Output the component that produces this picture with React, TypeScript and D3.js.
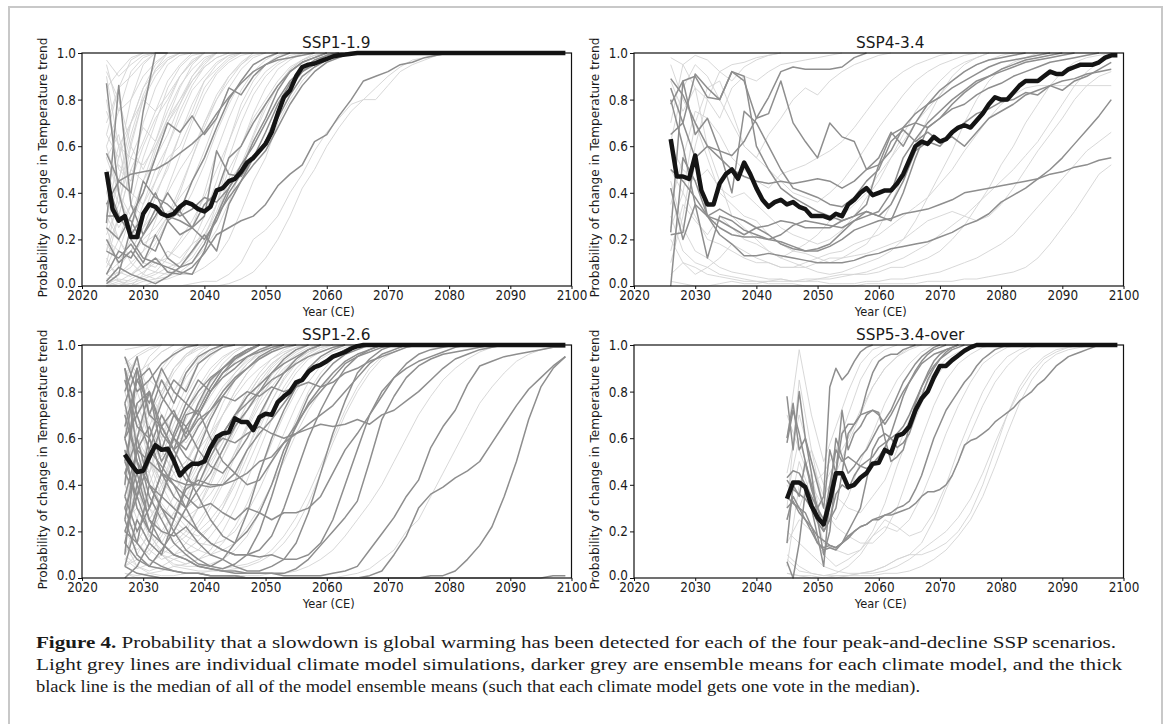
import React, { useEffect, useRef } from "react";
import * as d3 from "d3";

// axis ticks shared by all four panels
const xTicks = [2020, 2030, 2040, 2050, 2060, 2070, 2080, 2090, 2100];
const yTicks = [0, 0.2, 0.4, 0.6, 0.8, 1.0];

// ---- SSP1-1.9 (median yearly, models and runs every 2 years from start) ----
const ssp119Start = 2024;
const ssp119Median = [
  0.49, 0.33, 0.28, 0.30, 0.21, 0.21,
  0.31, 0.35, 0.34, 0.31, 0.30, 0.31, 0.34, 0.36, 0.35, 0.33,
  0.32, 0.34, 0.41, 0.42, 0.45, 0.46, 0.49, 0.53, 0.55, 0.58,
  0.61, 0.66, 0.74, 0.81, 0.84, 0.90, 0.94, 0.95, 0.955, 0.965,
  0.975, 0.985, 0.99, 0.993, 0.997, 1, 1, 1, 1, 1,
  1, 1, 1, 1, 1, 1, 1, 1, 1, 1,
  1, 1, 1, 1, 1, 1, 1, 1, 1, 1,
  1, 1, 1, 1, 1, 1, 1, 1, 1, 1,
];
const ssp119Models = [
  [0.57, 0.45, 0.40, 0.75, 1.0, 1.0],
  [0.27, 0.86, 0.35, 0.22, 0.30, 0.40, 0.32, 0.45, 0.55, 0.68, 0.80, 0.88, 0.95, 0.98, 1.0],
  [0.35, 0.45, 0.48, 0.49, 0.50, 0.53, 0.57, 0.61, 0.66, 0.74, 0.81, 0.87, 0.92, 0.95, 0.97, 0.98, 0.99, 1.0],
  [0.25, 0.20, 0.30, 0.40, 0.55, 0.70, 0.66, 0.73, 0.65, 0.72, 0.85, 0.82, 0.90, 0.95, 0.98, 1.0],
  [0.05, 0.15, 0.12, 0.22, 0.33, 0.30, 0.28, 0.25, 0.30, 0.58, 0.48, 0.47, 0.55, 0.62, 0.75, 0.85, 0.92, 0.96, 0.99, 1.0],
  [0.02, 0.08, 0.05, 0.03, 0.01, 0.04, 0.08, 0.10, 0.18, 0.30, 0.38, 0.45, 0.55, 0.66, 0.78, 0.87, 0.92, 0.95, 0.97, 0.99, 1.0],
  [0.30, 0.30, 0.22, 0.30, 0.40, 0.28, 0.22, 0.25, 0.20, 0.28, 0.40, 0.48, 0.55, 0.62, 0.72, 0.82, 0.90, 0.94, 0.97, 0.99, 1.0],
  [0.15, 0.12, 0.18, 0.10, 0.22, 0.12, 0.08, 0.15, 0.22, 0.15, 0.35, 0.45, 0.52, 0.58, 0.68, 0.78, 0.86, 0.92, 0.96, 0.98, 1.0],
  [0.20, 0.10, 0.15, 0.08, 0.12, 0.06, 0.05, 0.08, 0.14, 0.22, 0.25, 0.28, 0.30, 0.35, 0.43, 0.48, 0.52, 0.62, 0.65, 0.73, 0.80, 0.88, 0.90, 0.92, 0.95, 0.96, 0.98, 0.99, 1.0],
  [0.87, 0.40, 0.20, 0.12, 0.10, 0.08, 0.06, 0.05, 0.15, 0.30, 0.42, 0.52, 0.60, 0.70, 0.80, 0.88, 0.93, 0.97, 0.99, 1.0],
  [0.01, 0.05, 0.25, 0.45, 0.38, 0.35, 0.30, 0.33, 0.38, 0.36, 0.42, 0.50, 0.62, 0.72, 0.84, 0.92, 0.96, 0.98, 1.0],
  [0.45, 0.30, 0.28, 0.18, 0.15, 0.28, 0.32, 0.25, 0.35, 0.40, 0.55, 0.60, 0.70, 0.78, 0.86, 0.92, 0.96, 0.98, 1.0],
];
const ssp119Runs = [
  [0.97, 0.90, 0.95, 0.99, 1, 1],
  [0.60, 0.75, 0.92, 0.98, 1],
  [0.30, 0.55, 0.70, 0.85, 0.95, 1],
  [0.15, 0.40, 0.62, 0.80, 0.90, 0.97, 1],
  [0.80, 0.50, 0.45, 0.70, 0.85, 0.95, 0.99, 1],
  [0.45, 0.30, 0.50, 0.62, 0.75, 0.82, 0.90, 0.96, 1],
  [0.20, 0.15, 0.30, 0.45, 0.55, 0.70, 0.78, 0.88, 0.94, 0.98, 1],
  [0.05, 0.10, 0.20, 0.35, 0.50, 0.60, 0.72, 0.84, 0.90, 0.96, 0.99, 1],
  [0.90, 0.60, 0.35, 0.30, 0.40, 0.50, 0.65, 0.75, 0.88, 0.93, 0.98, 1],
  [0.10, 0.05, 0.08, 0.15, 0.20, 0.30, 0.42, 0.55, 0.70, 0.82, 0.90, 0.95, 0.99, 1],
  [0.35, 0.20, 0.12, 0.20, 0.25, 0.32, 0.30, 0.40, 0.52, 0.66, 0.78, 0.88, 0.95, 0.98, 1],
  [0.02, 0.00, 0.03, 0.06, 0.10, 0.12, 0.20, 0.28, 0.38, 0.50, 0.62, 0.75, 0.85, 0.92, 0.96, 0.99, 1],
  [0.00, 0.02, 0.01, 0.03, 0.05, 0.08, 0.10, 0.15, 0.25, 0.35, 0.50, 0.60, 0.72, 0.80, 0.88, 0.94, 0.97, 0.99, 1],
  [0.25, 0.08, 0.05, 0.10, 0.08, 0.15, 0.12, 0.18, 0.22, 0.30, 0.45, 0.52, 0.65, 0.78, 0.86, 0.93, 0.97, 1],
  [0.00, 0.00, 0.01, 0.00, 0.02, 0.03, 0.05, 0.05, 0.08, 0.12, 0.20, 0.32, 0.45, 0.55, 0.70, 0.80, 0.88, 0.94, 0.97, 0.99, 1],
  [0.00, 0.00, 0.00, 0.00, 0.00, 0.00, 0.00, 0.01, 0.02, 0.02, 0.05, 0.10, 0.20, 0.24, 0.30, 0.40, 0.48, 0.58, 0.66, 0.72, 0.78, 0.80, 0.85, 0.90, 0.94, 0.97, 0.98, 0.99, 1],
  [0.00, 0.00, 0.00, 0.00, 0.00, 0.00, 0.00, 0.00, 0.00, 0.00, 0.01, 0.03, 0.06, 0.12, 0.20, 0.30, 0.42, 0.50, 0.60, 0.68, 0.75, 0.80, 0.80, 0.86, 0.92, 0.95, 0.97, 0.99, 1],
  [0.70, 0.85, 0.97, 1],
  [0.50, 0.35, 0.60, 0.80, 0.93, 1],
  [0.10, 0.30, 0.25, 0.40, 0.58, 0.72, 0.85, 0.95, 1],
  [0.40, 0.60, 0.55, 0.52, 0.60, 0.70, 0.80, 0.90, 0.97, 1],
  [0.02, 0.08, 0.15, 0.25, 0.32, 0.40, 0.50, 0.58, 0.70, 0.80, 0.88, 0.95, 1],
  [0.60, 0.40, 0.25, 0.18, 0.22, 0.30, 0.38, 0.45, 0.58, 0.72, 0.85, 0.93, 0.98, 1],
  [0.12, 0.02, 0.00, 0.05, 0.12, 0.10, 0.08, 0.12, 0.20, 0.35, 0.55, 0.70, 0.82, 0.90, 0.95, 0.98, 1],
  [0.95, 0.75, 0.80, 0.90, 0.96, 1],
  [0.30, 0.45, 0.70, 0.80, 0.75, 0.88, 0.95, 1],
  [0.00, 0.05, 0.10, 0.05, 0.03, 0.06, 0.10, 0.18, 0.30, 0.45, 0.62, 0.78, 0.88, 0.95, 0.99, 1],
  [0.55, 0.65, 0.40, 0.35, 0.45, 0.55, 0.60, 0.72, 0.85, 0.92, 0.97, 1],
  [0.85, 0.92, 0.98, 1],
  [0.65, 0.55, 0.80, 0.95, 1],
  [0.25, 0.45, 0.65, 0.82, 0.93, 0.98, 1],
  [0.40, 0.25, 0.35, 0.55, 0.70, 0.85, 0.94, 0.99, 1],
  [0.08, 0.20, 0.35, 0.30, 0.45, 0.60, 0.75, 0.86, 0.94, 0.98, 1],
  [0.55, 0.40, 0.30, 0.40, 0.55, 0.65, 0.78, 0.90, 0.96, 1],
  [0.18, 0.10, 0.15, 0.25, 0.38, 0.52, 0.65, 0.78, 0.88, 0.95, 0.99, 1],
  [0.03, 0.06, 0.04, 0.10, 0.18, 0.28, 0.40, 0.55, 0.68, 0.80, 0.90, 0.96, 1],
  [0.75, 0.60, 0.70, 0.85, 0.92, 0.97, 1],
  [0.30, 0.20, 0.10, 0.15, 0.28, 0.42, 0.56, 0.70, 0.82, 0.91, 0.96, 0.99, 1],
  [0.05, 0.02, 0.05, 0.08, 0.06, 0.12, 0.18, 0.25, 0.40, 0.58, 0.72, 0.84, 0.92, 0.97, 1],
  [0.92, 0.80, 0.60, 0.50, 0.62, 0.78, 0.90, 0.97, 1],
  [0.15, 0.30, 0.50, 0.45, 0.60, 0.72, 0.80, 0.88, 0.95, 1],
  [0.48, 0.52, 0.45, 0.60, 0.72, 0.80, 0.90, 0.96, 1],
  [0.01, 0.03, 0.02, 0.04, 0.06, 0.05, 0.08, 0.14, 0.22, 0.32, 0.46, 0.60, 0.74, 0.85, 0.93, 0.97, 1],
  [0.00, 0.01, 0.00, 0.02, 0.03, 0.04, 0.06, 0.10, 0.16, 0.24, 0.36, 0.50, 0.64, 0.76, 0.86, 0.93, 0.97, 0.99, 1],
  [0.22, 0.35, 0.55, 0.68, 0.62, 0.75, 0.86, 0.93, 0.98, 1],
  [0.65, 0.85, 0.90, 0.96, 1],
];

// ---- SSP4-3.4 ----
const ssp434Start = 2026;
const ssp434Median = [
  0.63, 0.47, 0.47, 0.46,
  0.56, 0.41, 0.35, 0.35, 0.44, 0.48, 0.50, 0.46, 0.53, 0.48,
  0.42, 0.37, 0.34, 0.36, 0.37, 0.35, 0.36, 0.34, 0.33, 0.30,
  0.30, 0.30, 0.29, 0.31, 0.30, 0.35, 0.37, 0.40, 0.42, 0.39,
  0.40, 0.41, 0.41, 0.44, 0.48, 0.54, 0.60, 0.62, 0.61, 0.64,
  0.62, 0.63, 0.66, 0.68, 0.69, 0.68, 0.71, 0.74, 0.78, 0.81,
  0.80, 0.80, 0.83, 0.86, 0.88, 0.88, 0.88, 0.90, 0.92, 0.91,
  0.91, 0.93, 0.94, 0.95, 0.95, 0.95, 0.96, 0.98, 0.99, 0.99,
];
const ssp434Models = [
  [0.89, 0.82, 0.70, 0.60, 0.58, 0.56, 0.62, 0.72, 0.81, 0.92, 0.94, 0.93, 0.93, 0.93, 0.94, 0.98, 1.0],
  [0.78, 0.88, 0.90, 0.81, 0.80, 0.92, 0.88, 0.72, 0.74, 0.88, 0.70, 0.62, 0.55, 0.70, 0.64, 0.62, 0.50, 0.55, 0.66, 0.60, 0.70, 0.78, 0.84, 0.88, 0.92, 0.95, 0.97, 0.98, 0.99, 1.0],
  [0.42, 0.20, 0.35, 0.30, 0.22, 0.18, 0.13, 0.13, 0.14, 0.13, 0.12, 0.11, 0.10, 0.10, 0.10, 0.11, 0.13, 0.14, 0.16, 0.17, 0.18, 0.19, 0.21, 0.23, 0.26, 0.28, 0.31, 0.36, 0.39, 0.42, 0.46, 0.50, 0.55, 0.61, 0.67, 0.73, 0.80],
  [0.22, 0.23, 0.55, 0.30, 0.25, 0.22, 0.21, 0.21, 0.20, 0.19, 0.17, 0.15, 0.15, 0.17, 0.20, 0.24, 0.26, 0.28, 0.29, 0.31, 0.32, 0.33, 0.35, 0.37, 0.40, 0.41, 0.42, 0.43, 0.44, 0.45, 0.46, 0.48, 0.49, 0.51, 0.52, 0.54, 0.55],
  [0.50, 0.45, 0.38, 0.30, 0.33, 0.30, 0.28, 0.25, 0.26, 0.28, 0.27, 0.25, 0.25, 0.25, 0.28, 0.30, 0.32, 0.30, 0.35, 0.45, 0.58, 0.62, 0.60, 0.66, 0.70, 0.74, 0.76, 0.79, 0.80, 0.83, 0.82, 0.86, 0.88, 0.89, 0.91, 0.92, 0.93],
  [0.85, 0.70, 0.55, 0.60, 0.55, 0.50, 0.47, 0.45, 0.44, 0.45, 0.44, 0.45, 0.46, 0.45, 0.42, 0.45, 0.50, 0.52, 0.58, 0.68, 0.74, 0.78, 0.81, 0.85, 0.88, 0.91, 0.94, 0.96, 0.97, 0.98, 0.99, 1.0],
  [0.23, 0.88, 0.65, 0.72, 0.58, 0.40, 0.75, 0.70, 0.60, 0.50, 0.42, 0.40, 0.38, 0.35, 0.34, 0.38, 0.45, 0.50, 0.62, 0.67, 0.62, 0.66, 0.62, 0.64, 0.60, 0.66, 0.72, 0.75, 0.78, 0.82, 0.84, 0.86, 0.84, 0.88, 0.90, 0.93, 0.96],
  [0.00, 0.55, 0.45, 0.30, 0.28, 0.25, 0.22, 0.25, 0.22, 0.18, 0.16, 0.15, 0.16, 0.18, 0.23, 0.28, 0.30, 0.32, 0.40, 0.55, 0.63, 0.70, 0.75, 0.80, 0.84, 0.88, 0.90, 0.92, 0.94, 0.96, 0.97, 0.98, 0.99, 1.0],
  [0.80, 0.60, 0.35, 0.12, 0.30, 0.28, 0.24, 0.22, 0.20, 0.22, 0.26, 0.28, 0.27, 0.26, 0.25, 0.28, 0.32, 0.30, 0.28, 0.40, 0.55, 0.68, 0.72, 0.76, 0.78, 0.82, 0.85, 0.87, 0.90, 0.92, 0.94, 0.96, 0.97, 0.98, 0.99, 1.0],
  [0.65, 0.70, 0.91, 0.85, 0.80, 0.92, 0.90, 0.60, 0.50, 0.42, 0.38, 0.35, 0.32, 0.30, 0.28, 0.30, 0.35, 0.52, 0.65, 0.68, 0.70, 0.68, 0.72, 0.78, 0.83, 0.87, 0.90, 0.93, 0.95, 0.97, 0.98, 0.99, 1.0],
];
const ssp434Runs = [
  [0.98, 0.95, 0.99, 0.97, 0.92, 0.95, 0.96, 0.98, 0.99, 1.0],
  [0.10, 0.30, 0.60, 0.80, 0.92, 0.88, 0.94, 0.97, 0.99, 1.0],
  [0.70, 0.95, 0.85, 0.60, 0.45, 0.30, 0.25, 0.20, 0.15, 0.12, 0.10, 0.08, 0.06, 0.05, 0.06, 0.08, 0.10, 0.12, 0.15, 0.20, 0.28, 0.38, 0.48, 0.58, 0.70, 0.80, 0.88, 0.93, 0.96, 0.98, 1.0],
  [0.30, 0.15, 0.10, 0.08, 0.05, 0.04, 0.03, 0.02, 0.02, 0.02, 0.02, 0.03, 0.03, 0.04, 0.05, 0.05, 0.06, 0.08, 0.10, 0.12, 0.15, 0.18, 0.22, 0.26, 0.30, 0.35, 0.40, 0.45, 0.50, 0.56, 0.62, 0.70, 0.78, 0.86, 0.92, 0.96, 0.98],
  [0.02, 0.01, 0.00, 0.00, 0.01, 0.02, 0.01, 0.01, 0.02, 0.03, 0.02, 0.02, 0.03, 0.03, 0.04, 0.05, 0.05, 0.06, 0.08, 0.08, 0.10, 0.12, 0.15, 0.20, 0.26, 0.34, 0.42, 0.52, 0.60, 0.70, 0.78, 0.86, 0.92, 0.96, 0.98, 0.99, 1.0],
  [0.50, 0.40, 0.70, 0.55, 0.40, 0.35, 0.30, 0.28, 0.22, 0.18, 0.15, 0.14, 0.12, 0.10, 0.12, 0.15, 0.18, 0.25, 0.35, 0.48, 0.60, 0.72, 0.82, 0.90, 0.95, 0.98, 1.0],
  [0.88, 0.75, 0.85, 0.80, 0.72, 0.85, 0.90, 0.88, 0.92, 0.95, 0.96, 0.97, 0.98, 0.99, 1.0],
  [0.15, 0.35, 0.28, 0.22, 0.30, 0.25, 0.20, 0.18, 0.15, 0.12, 0.15, 0.18, 0.22, 0.28, 0.30, 0.35, 0.40, 0.48, 0.55, 0.62, 0.70, 0.76, 0.82, 0.88, 0.92, 0.95, 0.97, 0.99, 1.0],
  [0.45, 0.25, 0.15, 0.12, 0.08, 0.06, 0.05, 0.04, 0.03, 0.03, 0.02, 0.02, 0.02, 0.01, 0.01, 0.01, 0.02, 0.02, 0.03, 0.03, 0.04, 0.05, 0.06, 0.08, 0.10, 0.12, 0.15, 0.18, 0.22, 0.28, 0.34, 0.40, 0.46, 0.52, 0.58, 0.62, 0.66],
  [0.95, 0.80, 0.70, 0.85, 0.88, 0.75, 0.60, 0.55, 0.65, 0.72, 0.80, 0.85, 0.82, 0.88, 0.92, 0.95, 0.97, 0.99, 1.0],
  [0.25, 0.40, 0.30, 0.20, 0.18, 0.15, 0.12, 0.10, 0.10, 0.08, 0.08, 0.10, 0.12, 0.14, 0.15, 0.18, 0.20, 0.22, 0.26, 0.30, 0.34, 0.38, 0.44, 0.50, 0.58, 0.65, 0.72, 0.78, 0.82, 0.85, 0.86, 0.86, 0.86, 0.86, 0.86, 0.86, 0.86],
  [0.60, 0.50, 0.45, 0.50, 0.42, 0.38, 0.40, 0.35, 0.30, 0.25, 0.22, 0.20, 0.18, 0.20, 0.24, 0.30, 0.38, 0.45, 0.55, 0.65, 0.75, 0.82, 0.88, 0.93, 0.96, 0.98, 1.0],
  [0.05, 0.10, 0.08, 0.05, 0.04, 0.03, 0.02, 0.02, 0.01, 0.01, 0.01, 0.00, 0.00, 0.00, 0.00, 0.00, 0.01, 0.01, 0.01, 0.01, 0.01, 0.02, 0.02, 0.02, 0.03, 0.03, 0.04, 0.05, 0.06, 0.08, 0.12, 0.18, 0.25, 0.32, 0.40, 0.48, 0.52],
  [0.35, 0.55, 0.75, 0.72, 0.65, 0.55, 0.50, 0.45, 0.42, 0.48, 0.50, 0.52, 0.55, 0.58, 0.62, 0.68, 0.75, 0.82, 0.88, 0.92, 0.95, 0.97, 0.99, 1.0],
  [0.20, 0.10, 0.05, 0.08, 0.12, 0.18, 0.15, 0.12, 0.10, 0.08, 0.08, 0.08, 0.10, 0.12, 0.12, 0.13, 0.14, 0.16, 0.18, 0.20, 0.24, 0.28, 0.30, 0.32, 0.30, 0.28, 0.30, 0.35, 0.42, 0.50, 0.58, 0.65, 0.72, 0.80, 0.86, 0.90, 0.92],
  [0.62, 0.85, 0.95, 0.90, 0.80, 0.70, 0.60, 0.55, 0.50, 0.45, 0.40, 0.38, 0.36, 0.40, 0.45, 0.52, 0.60, 0.68, 0.75, 0.82, 0.88, 0.92, 0.95, 0.97, 0.99, 1.0],
];

// ---- SSP1-2.6 ----
const ssp126Start = 2027;
const ssp126Median = [
  0.53, 0.49, 0.455,
  0.46, 0.52, 0.57, 0.55, 0.555, 0.505, 0.44, 0.47, 0.49, 0.49,
  0.50, 0.56, 0.605, 0.62, 0.625, 0.685, 0.67, 0.67, 0.635, 0.69,
  0.705, 0.70, 0.755, 0.78, 0.80, 0.84, 0.85, 0.885, 0.905, 0.915,
  0.93, 0.95, 0.96, 0.97, 0.985, 0.995, 1, 1, 1, 1,
  1, 1, 1, 1, 1, 1, 1, 1, 1, 1,
  1, 1, 1, 1, 1, 1, 1, 1, 1, 1,
  1, 1, 1, 1, 1, 1, 1, 1, 1, 1,
];
const ssp126Models = [
  [0.95, 0.80, 0.85, 0.92, 0.96, 0.99, 1.0],
  [0.40, 0.90, 0.70, 0.85, 0.75, 0.88, 0.95, 0.98, 1.0],
  [0.10, 0.60, 0.80, 0.55, 0.70, 0.62, 0.75, 0.85, 0.90, 0.95, 0.98, 1.0],
  [0.70, 0.50, 0.30, 0.45, 0.60, 0.55, 0.65, 0.72, 0.80, 0.86, 0.90, 0.94, 0.97, 0.99, 1.0],
  [0.55, 0.30, 0.20, 0.35, 0.50, 0.42, 0.40, 0.52, 0.62, 0.70, 0.78, 0.83, 0.88, 0.92, 0.95, 0.98, 1.0],
  [0.20, 0.15, 0.40, 0.30, 0.25, 0.38, 0.42, 0.40, 0.40, 0.45, 0.55, 0.62, 0.68, 0.75, 0.82, 0.88, 0.92, 0.95, 0.98, 1.0],
  [0.85, 0.65, 0.60, 0.45, 0.40, 0.30, 0.20, 0.15, 0.12, 0.10, 0.10, 0.12, 0.18, 0.30, 0.45, 0.60, 0.72, 0.82, 0.90, 0.95, 0.98, 1.0],
  [0.30, 0.45, 0.25, 0.20, 0.18, 0.22, 0.15, 0.10, 0.08, 0.05, 0.03, 0.03, 0.05, 0.08, 0.15, 0.28, 0.45, 0.62, 0.76, 0.88, 0.94, 0.98, 1.0],
  [0.05, 0.02, 0.01, 0.00, 0.00, 0.00, 0.00, 0.00, 0.00, 0.00, 0.00, 0.00, 0.00, 0.00, 0.00, 0.00, 0.00, 0.00, 0.00, 0.00, 0.00, 0.00, 0.00, 0.00, 0.00, 0.01, 0.01, 0.03, 0.08, 0.14, 0.22, 0.35, 0.50, 0.68, 0.82, 0.90, 0.95],
  [0.30, 0.15, 0.08, 0.05, 0.03, 0.02, 0.02, 0.01, 0.01, 0.01, 0.00, 0.00, 0.00, 0.00, 0.00, 0.00, 0.00, 0.00, 0.00, 0.00, 0.01, 0.03, 0.10, 0.18, 0.30, 0.36, 0.39, 0.43, 0.46, 0.50, 0.58, 0.66, 0.74, 0.81, 0.86, 0.91, 0.95],
  [0.60, 0.40, 0.25, 0.15, 0.10, 0.08, 0.05, 0.04, 0.03, 0.03, 0.02, 0.02, 0.02, 0.01, 0.01, 0.01, 0.01, 0.02, 0.03, 0.05, 0.12, 0.19, 0.26, 0.35, 0.42, 0.56, 0.65, 0.72, 0.83, 0.91, 0.93, 0.95, 0.96, 0.97, 0.98, 0.99, 0.99],
  [0.15, 0.08, 0.05, 0.04, 0.03, 0.02, 0.02, 0.01, 0.01, 0.01, 0.00, 0.00, 0.00, 0.00, 0.00, 0.00, 0.00, 0.00, 0.00, 0.00, 0.00, 0.00, 0.00, 0.00, 0.00, 0.00, 0.00, 0.00, 0.00, 0.00, 0.00, 0.00, 0.00, 0.00, 0.00, 0.01, 0.01],
  [0.45, 0.35, 0.20, 0.15, 0.10, 0.08, 0.05, 0.04, 0.03, 0.02, 0.02, 0.02, 0.02, 0.02, 0.04, 0.08, 0.14, 0.20, 0.26, 0.33, 0.50, 0.68, 0.78, 0.86, 0.91, 0.94, 0.96, 0.97, 0.98, 0.99, 1.0],
  [0.75, 0.50, 0.40, 0.35, 0.30, 0.25, 0.20, 0.15, 0.12, 0.10, 0.10, 0.09, 0.10, 0.08, 0.08, 0.10, 0.15, 0.25, 0.40, 0.55, 0.70, 0.80, 0.86, 0.90, 0.93, 0.95, 0.97, 0.99, 1.0],
  [0.90, 0.55, 0.50, 0.45, 0.42, 0.40, 0.40, 0.39, 0.40, 0.42, 0.45, 0.50, 0.52, 0.58, 0.62, 0.66, 0.70, 0.74, 0.80, 0.86, 0.92, 0.96, 0.98, 1.0],
  [0.60, 0.70, 0.55, 0.48, 0.40, 0.35, 0.30, 0.32, 0.28, 0.25, 0.30, 0.28, 0.25, 0.28, 0.28, 0.30, 0.35, 0.45, 0.55, 0.62, 0.70, 0.78, 0.86, 0.92, 0.96, 0.98, 0.99, 1.0],
  [0.35, 0.55, 0.65, 0.50, 0.60, 0.52, 0.48, 0.55, 0.60, 0.58, 0.62, 0.65, 0.62, 0.60, 0.62, 0.64, 0.66, 0.65, 0.66, 0.68, 0.66, 0.70, 0.72, 0.76, 0.80, 0.85, 0.90, 0.94, 0.96, 0.98, 0.99, 1.0],
  [0.80, 0.95, 0.70, 0.65, 0.72, 0.60, 0.68, 0.72, 0.78, 0.76, 0.80, 0.78, 0.82, 0.80, 0.82, 0.84, 0.82, 0.84, 0.88, 0.90, 0.93, 0.95, 0.97, 0.99, 1.0],
  [0.45, 0.60, 0.40, 0.30, 0.20, 0.12, 0.08, 0.05, 0.04, 0.06, 0.10, 0.20, 0.35, 0.52, 0.66, 0.78, 0.86, 0.92, 0.96, 0.98, 1.0],
  [0.20, 0.35, 0.50, 0.65, 0.55, 0.45, 0.35, 0.25, 0.18, 0.15, 0.20, 0.28, 0.40, 0.55, 0.65, 0.75, 0.82, 0.88, 0.93, 0.96, 0.98, 1.0],
  [0.00, 0.05, 0.15, 0.10, 0.25, 0.40, 0.55, 0.68, 0.78, 0.85, 0.90, 0.95, 0.98, 1.0],
  [0.65, 0.85, 0.75, 0.90, 0.80, 0.75, 0.85, 0.80, 0.88, 0.92, 0.95, 0.97, 0.99, 1.0],
  [0.25, 0.10, 0.05, 0.12, 0.20, 0.30, 0.45, 0.55, 0.62, 0.70, 0.75, 0.80, 0.85, 0.88, 0.92, 0.95, 0.97, 0.99, 1.0],
  [0.50, 0.75, 0.80, 0.62, 0.55, 0.70, 0.72, 0.60, 0.50, 0.45, 0.40, 0.42, 0.50, 0.58, 0.66, 0.74, 0.80, 0.86, 0.92, 0.95, 0.97, 0.99, 1.0],
  [0.75, 0.90, 0.60, 0.75, 0.85, 0.80, 0.92, 0.96, 0.99, 1.0],
  [0.15, 0.40, 0.55, 0.70, 0.60, 0.72, 0.80, 0.86, 0.90, 0.94, 0.97, 1.0],
  [0.90, 0.70, 0.80, 0.65, 0.55, 0.60, 0.70, 0.80, 0.88, 0.94, 0.98, 1.0],
  [0.35, 0.20, 0.30, 0.45, 0.35, 0.30, 0.38, 0.45, 0.55, 0.65, 0.72, 0.80, 0.88, 0.94, 0.98, 1.0],
  [0.60, 0.85, 0.90, 0.78, 0.70, 0.65, 0.55, 0.48, 0.45, 0.52, 0.60, 0.70, 0.80, 0.88, 0.94, 0.98, 1.0],
  [0.05, 0.25, 0.15, 0.35, 0.50, 0.65, 0.72, 0.82, 0.90, 0.95, 0.98, 1.0],
  [0.50, 0.35, 0.60, 0.45, 0.62, 0.75, 0.70, 0.80, 0.86, 0.90, 0.95, 0.98, 1.0],
  [0.25, 0.55, 0.35, 0.25, 0.15, 0.10, 0.06, 0.05, 0.08, 0.15, 0.28, 0.45, 0.60, 0.72, 0.82, 0.90, 0.95, 0.98, 1.0],
];
const ssp126Runs = [
  [0.98, 0.99, 1.0],
  [0.85, 0.95, 0.98, 1.0],
  [0.60, 0.80, 0.92, 0.97, 1.0],
  [0.30, 0.55, 0.75, 0.88, 0.95, 1.0],
  [0.10, 0.25, 0.45, 0.65, 0.80, 0.90, 0.96, 1.0],
  [0.75, 0.55, 0.65, 0.78, 0.88, 0.95, 0.99, 1.0],
  [0.45, 0.35, 0.50, 0.40, 0.55, 0.68, 0.80, 0.88, 0.94, 0.98, 1.0],
  [0.20, 0.40, 0.30, 0.25, 0.35, 0.48, 0.60, 0.70, 0.80, 0.88, 0.94, 0.98, 1.0],
  [0.05, 0.10, 0.20, 0.15, 0.25, 0.35, 0.45, 0.58, 0.70, 0.80, 0.88, 0.94, 0.97, 1.0],
  [0.90, 0.70, 0.50, 0.35, 0.30, 0.40, 0.50, 0.62, 0.75, 0.85, 0.92, 0.97, 1.0],
  [0.55, 0.45, 0.30, 0.20, 0.15, 0.20, 0.30, 0.42, 0.55, 0.68, 0.78, 0.86, 0.92, 0.96, 0.99, 1.0],
  [0.35, 0.20, 0.12, 0.08, 0.10, 0.15, 0.22, 0.30, 0.40, 0.52, 0.65, 0.76, 0.85, 0.92, 0.96, 0.99, 1.0],
  [0.15, 0.05, 0.03, 0.05, 0.08, 0.10, 0.12, 0.18, 0.25, 0.35, 0.48, 0.60, 0.72, 0.82, 0.90, 0.95, 0.98, 1.0],
  [0.02, 0.01, 0.02, 0.03, 0.05, 0.06, 0.08, 0.10, 0.15, 0.22, 0.32, 0.45, 0.58, 0.70, 0.80, 0.88, 0.94, 0.97, 0.99, 1.0],
  [0.70, 0.40, 0.20, 0.10, 0.06, 0.05, 0.05, 0.06, 0.08, 0.12, 0.18, 0.28, 0.40, 0.55, 0.68, 0.80, 0.88, 0.94, 0.97, 0.99, 1.0],
  [0.40, 0.60, 0.70, 0.60, 0.50, 0.45, 0.55, 0.62, 0.70, 0.78, 0.85, 0.90, 0.94, 0.97, 0.99, 1.0],
  [0.25, 0.30, 0.20, 0.30, 0.20, 0.15, 0.12, 0.10, 0.12, 0.15, 0.22, 0.30, 0.40, 0.50, 0.62, 0.72, 0.80, 0.88, 0.93, 0.96, 0.98, 1.0],
  [0.10, 0.05, 0.02, 0.01, 0.01, 0.02, 0.02, 0.03, 0.03, 0.04, 0.05, 0.07, 0.10, 0.15, 0.22, 0.32, 0.45, 0.58, 0.70, 0.80, 0.88, 0.94, 0.97, 0.99, 1.0],
  [0.05, 0.02, 0.01, 0.00, 0.00, 0.00, 0.00, 0.00, 0.00, 0.01, 0.01, 0.01, 0.02, 0.02, 0.03, 0.05, 0.08, 0.12, 0.18, 0.25, 0.32, 0.40, 0.50, 0.60, 0.70, 0.78, 0.85, 0.90, 0.94, 0.97, 0.99, 1.0],
  [0.02, 0.00, 0.00, 0.00, 0.00, 0.00, 0.00, 0.00, 0.00, 0.00, 0.00, 0.00, 0.00, 0.00, 0.00, 0.00, 0.00, 0.00, 0.01, 0.02, 0.04, 0.08, 0.12, 0.20, 0.25, 0.35, 0.45, 0.55, 0.65, 0.75, 0.82, 0.88, 0.93, 0.96, 0.98, 0.99, 1.0],
  [0.95, 0.85, 0.70, 0.80, 0.90, 0.96, 0.99, 1.0],
  [0.50, 0.70, 0.85, 0.80, 0.90, 0.95, 0.98, 1.0],
  [0.65, 0.50, 0.40, 0.55, 0.45, 0.35, 0.40, 0.50, 0.58, 0.68, 0.78, 0.86, 0.92, 0.96, 0.99, 1.0],
  [0.30, 0.15, 0.25, 0.35, 0.30, 0.25, 0.20, 0.25, 0.32, 0.42, 0.55, 0.66, 0.76, 0.85, 0.92, 0.96, 0.99, 1.0],
  [0.80, 0.60, 0.45, 0.30, 0.22, 0.18, 0.15, 0.14, 0.16, 0.20, 0.28, 0.38, 0.50, 0.62, 0.74, 0.84, 0.91, 0.95, 0.98, 1.0],
  [0.12, 0.20, 0.35, 0.50, 0.42, 0.38, 0.45, 0.52, 0.60, 0.66, 0.72, 0.78, 0.84, 0.90, 0.94, 0.97, 0.99, 1.0],
  [0.40, 0.25, 0.15, 0.10, 0.05, 0.04, 0.03, 0.03, 0.04, 0.05, 0.06, 0.08, 0.12, 0.18, 0.26, 0.36, 0.48, 0.60, 0.72, 0.82, 0.90, 0.95, 0.98, 1.0],
  [0.88, 0.92, 0.80, 0.70, 0.62, 0.58, 0.66, 0.74, 0.82, 0.88, 0.93, 0.97, 1.0],
  [0.20, 0.35, 0.55, 0.70, 0.62, 0.72, 0.82, 0.90, 0.95, 0.98, 1.0],
  [0.60, 0.35, 0.30, 0.45, 0.60, 0.70, 0.78, 0.84, 0.90, 0.94, 0.97, 1.0],
  [0.08, 0.15, 0.10, 0.18, 0.28, 0.22, 0.30, 0.40, 0.52, 0.64, 0.75, 0.84, 0.91, 0.96, 0.99, 1.0],
  [0.45, 0.65, 0.55, 0.40, 0.30, 0.26, 0.30, 0.36, 0.44, 0.54, 0.64, 0.74, 0.82, 0.89, 0.94, 0.97, 0.99, 1.0],
  [0.92, 0.96, 0.99, 1.0],
  [0.70, 0.85, 0.95, 1.0],
  [0.50, 0.60, 0.75, 0.90, 0.97, 1.0],
  [0.15, 0.35, 0.60, 0.78, 0.90, 0.96, 1.0],
  [0.35, 0.50, 0.45, 0.60, 0.75, 0.86, 0.93, 0.98, 1.0],
  [0.80, 0.65, 0.72, 0.60, 0.70, 0.82, 0.92, 0.97, 1.0],
  [0.25, 0.45, 0.60, 0.52, 0.66, 0.78, 0.88, 0.95, 0.99, 1.0],
  [0.55, 0.40, 0.30, 0.38, 0.50, 0.62, 0.74, 0.84, 0.92, 0.97, 1.0],
  [0.10, 0.20, 0.30, 0.40, 0.52, 0.60, 0.70, 0.80, 0.88, 0.94, 0.98, 1.0],
  [0.65, 0.75, 0.60, 0.50, 0.55, 0.62, 0.70, 0.78, 0.86, 0.93, 0.97, 1.0],
  [0.40, 0.30, 0.25, 0.35, 0.45, 0.50, 0.60, 0.70, 0.78, 0.86, 0.92, 0.96, 0.99, 1.0],
  [0.05, 0.08, 0.12, 0.20, 0.28, 0.38, 0.48, 0.60, 0.70, 0.80, 0.88, 0.94, 0.98, 1.0],
  [0.90, 0.80, 0.65, 0.55, 0.45, 0.50, 0.58, 0.68, 0.78, 0.86, 0.92, 0.97, 1.0],
  [0.20, 0.12, 0.18, 0.28, 0.22, 0.30, 0.38, 0.48, 0.58, 0.70, 0.80, 0.88, 0.94, 0.98, 1.0],
  [0.72, 0.60, 0.50, 0.42, 0.35, 0.30, 0.34, 0.42, 0.52, 0.62, 0.72, 0.82, 0.90, 0.95, 0.98, 1.0],
  [0.30, 0.50, 0.40, 0.32, 0.25, 0.20, 0.18, 0.22, 0.30, 0.40, 0.52, 0.64, 0.76, 0.86, 0.93, 0.97, 1.0],
  [0.08, 0.04, 0.06, 0.10, 0.14, 0.18, 0.24, 0.32, 0.42, 0.54, 0.66, 0.78, 0.87, 0.93, 0.97, 1.0],
  [0.60, 0.45, 0.55, 0.65, 0.58, 0.65, 0.74, 0.82, 0.90, 0.95, 0.98, 1.0],
  [0.95, 0.88, 0.92, 0.97, 1.0],
  [0.45, 0.30, 0.18, 0.12, 0.10, 0.12, 0.16, 0.22, 0.30, 0.42, 0.55, 0.68, 0.80, 0.88, 0.94, 0.98, 1.0],
  [0.18, 0.25, 0.15, 0.10, 0.08, 0.06, 0.08, 0.12, 0.20, 0.30, 0.42, 0.55, 0.68, 0.80, 0.88, 0.94, 0.97, 0.99, 1.0],
  [0.85, 0.70, 0.78, 0.85, 0.80, 0.88, 0.94, 0.98, 1.0],
];

// ---- SSP5-3.4-over (models yearly here) ----
const ssp534Start = 2045;
const ssp534Median = [
  0.34, 0.41, 0.41, 0.39, 0.31,
  0.26, 0.23, 0.33, 0.45, 0.45, 0.39, 0.40, 0.43, 0.45, 0.49,
  0.495, 0.55, 0.535, 0.61, 0.62, 0.65, 0.72, 0.77, 0.80, 0.86,
  0.91, 0.91, 0.935, 0.955, 0.975, 0.99, 1, 1, 1, 1,
  1, 1, 1, 1, 1, 1, 1, 1, 1, 1,
  1, 1, 1, 1, 1, 1, 1, 1, 1, 1,
];
const ssp534Models = [
  [0.43, 0.46, 0.45, 0.40, 0.35, 0.30, 0.35, 0.82, 0.90, 0.85, 0.88, 0.93, 0.97, 0.99, 1.0],
  [0.60, 0.75, 0.55, 0.60, 0.50, 0.40, 0.30, 0.55, 0.45, 0.62, 0.66, 0.66, 0.70, 0.80, 0.88, 0.93, 0.95, 0.96, 0.96, 0.98, 0.99, 1.0],
  [0.78, 0.55, 0.80, 0.60, 0.45, 0.25, 0.10, 0.20, 0.45, 0.72, 0.55, 0.62, 0.65, 0.70, 0.72, 0.70, 0.66, 0.70, 0.75, 0.80, 0.84, 0.88, 0.92, 0.94, 0.96, 0.97, 0.98, 0.99, 1.0],
  [0.30, 0.33, 0.28, 0.25, 0.22, 0.18, 0.16, 0.14, 0.13, 0.15, 0.18, 0.20, 0.22, 0.23, 0.25, 0.26, 0.27, 0.27, 0.28, 0.29, 0.30, 0.32, 0.35, 0.37, 0.37, 0.38, 0.40, 0.44, 0.50, 0.57, 0.59, 0.60, 0.62, 0.64, 0.67, 0.69, 0.71, 0.73, 0.76, 0.78, 0.80, 0.83, 0.85, 0.88, 0.91, 0.93, 0.95, 0.96, 0.97, 0.98, 0.99, 1.0],
  [0.25, 0.35, 0.30, 0.28, 0.22, 0.15, 0.13, 0.14, 0.13, 0.15, 0.17, 0.20, 0.22, 0.23, 0.25, 0.25, 0.27, 0.28, 0.30, 0.31, 0.33, 0.38, 0.44, 0.52, 0.60, 0.66, 0.72, 0.76, 0.80, 0.84, 0.87, 0.91, 0.94, 0.96, 0.98, 0.99, 1.0],
  [0.07, 0.00, 0.15, 0.37, 0.30, 0.18, 0.05, 0.35, 0.60, 0.52, 0.45, 0.48, 0.52, 0.55, 0.60, 0.65, 0.68, 0.72, 0.78, 0.84, 0.88, 0.92, 0.95, 0.97, 0.99, 1.0],
  [0.15, 0.40, 0.35, 0.50, 0.40, 0.30, 0.20, 0.25, 0.30, 0.45, 0.62, 0.66, 0.70, 0.71, 0.72, 0.71, 0.60, 0.50, 0.52, 0.55, 0.65, 0.75, 0.82, 0.88, 0.93, 0.96, 0.98, 0.99, 1.0],
  [0.35, 0.32, 0.30, 0.25, 0.20, 0.15, 0.12, 0.13, 0.12, 0.15, 0.20, 0.25, 0.30, 0.42, 0.55, 0.60, 0.62, 0.60, 0.56, 0.58, 0.62, 0.70, 0.78, 0.85, 0.90, 0.94, 0.97, 0.99, 1.0],
  [0.58, 0.72, 0.62, 0.50, 0.38, 0.30, 0.25, 0.40, 0.55, 0.50, 0.52, 0.50, 0.48, 0.47, 0.49, 0.52, 0.56, 0.62, 0.70, 0.78, 0.84, 0.89, 0.93, 0.96, 0.98, 0.99, 1.0],
  [0.42, 0.38, 0.36, 0.34, 0.30, 0.24, 0.20, 0.25, 0.36, 0.40, 0.38, 0.44, 0.48, 0.50, 0.52, 0.56, 0.58, 0.60, 0.62, 0.65, 0.70, 0.76, 0.82, 0.87, 0.91, 0.94, 0.96, 0.98, 0.99, 1.0],
];
const ssp534Runs = [
  [0.60, 0.98, 0.70, 0.50, 0.65, 0.80, 0.92, 0.98, 1.0],
  [0.30, 0.85, 0.55, 0.40, 0.50, 0.60, 0.72, 0.82, 0.90, 0.95, 0.99, 1.0],
  [0.05, 0.40, 0.55, 0.30, 0.25, 0.35, 0.50, 0.62, 0.75, 0.85, 0.92, 0.97, 1.0],
  [0.20, 0.15, 0.10, 0.05, 0.03, 0.02, 0.02, 0.03, 0.05, 0.08, 0.10, 0.15, 0.25, 0.38, 0.50, 0.62, 0.74, 0.84, 0.91, 0.96, 0.99, 1.0],
  [0.02, 0.01, 0.00, 0.00, 0.01, 0.01, 0.02, 0.03, 0.05, 0.08, 0.10, 0.10, 0.12, 0.15, 0.20, 0.28, 0.40, 0.55, 0.70, 0.82, 0.90, 0.95, 0.98, 0.99, 1.0],
  [0.10, 0.05, 0.02, 0.01, 0.01, 0.01, 0.01, 0.01, 0.02, 0.02, 0.03, 0.05, 0.08, 0.12, 0.18, 0.25, 0.35, 0.48, 0.62, 0.75, 0.85, 0.92, 0.96, 0.98, 0.99, 1.0],
  [0.40, 0.30, 0.45, 0.20, 0.35, 0.30, 0.28, 0.35, 0.42, 0.55, 0.68, 0.80, 0.88, 0.94, 0.97, 0.99, 1.0],
  [0.25, 0.50, 0.35, 0.15, 0.12, 0.10, 0.12, 0.18, 0.25, 0.22, 0.18, 0.20, 0.28, 0.40, 0.55, 0.68, 0.80, 0.89, 0.95, 0.98, 1.0],
  [0.70, 0.55, 0.40, 0.45, 0.55, 0.70, 0.85, 0.94, 0.98, 1.0],
  [0.15, 0.25, 0.20, 0.10, 0.05, 0.08, 0.12, 0.20, 0.32, 0.48, 0.62, 0.75, 0.85, 0.92, 0.96, 0.99, 1.0],
  [0.45, 0.70, 0.50, 0.35, 0.45, 0.58, 0.70, 0.82, 0.90, 0.95, 0.98, 1.0],
  [0.08, 0.03, 0.02, 0.01, 0.02, 0.05, 0.10, 0.18, 0.22, 0.20, 0.25, 0.35, 0.48, 0.62, 0.74, 0.84, 0.92, 0.96, 0.99, 1.0],
  [0.35, 0.60, 0.40, 0.30, 0.22, 0.18, 0.15, 0.15, 0.20, 0.30, 0.45, 0.60, 0.74, 0.85, 0.92, 0.96, 0.99, 1.0],
  [0.02, 0.01, 0.01, 0.00, 0.00, 0.01, 0.02, 0.02, 0.03, 0.05, 0.08, 0.12, 0.16, 0.20, 0.26, 0.34, 0.45, 0.58, 0.70, 0.80, 0.88, 0.94, 0.97, 0.99, 1.0],
];

const captionLines = [
  "Probability that a slowdown is global warming has been detected for each of the four peak-and-decline SSP scenarios.",
  "Light grey lines are individual climate model simulations, darker grey are ensemble means for each climate model, and the thick",
  "black line is the median of all of the model ensemble means (such that each climate model gets one vote in the median).",
];
const captionWidths = [1080, 1086, 884];

const panels = [
  { title: "SSP1-1.9", start: ssp119Start, median: ssp119Median, models: ssp119Models, runs: ssp119Runs, modelStep: 2, runStep: 2 },
  { title: "SSP4-3.4", start: ssp434Start, median: ssp434Median, models: ssp434Models, runs: ssp434Runs, modelStep: 2, runStep: 2 },
  { title: "SSP1-2.6", start: ssp126Start, median: ssp126Median, models: ssp126Models, runs: ssp126Runs, modelStep: 2, runStep: 2 },
  { title: "SSP5-3.4-over", start: ssp534Start, median: ssp534Median, models: ssp534Models, runs: ssp534Runs, modelStep: 1, runStep: 2 },
];

// where each panel sits on the page
const frames = [
  { left: 82, top: 53, titleX: 302 },
  { left: 634, top: 53, titleX: 856 },
  { left: 82, top: 345, titleX: 302 },
  { left: 634, top: 345, titleX: 856 },
];
const plotW = 489.5;
const plotH = 233;
const sans = "'DejaVu Sans', sans-serif";

const App = () => {
  const ref = useRef<SVGSVGElement>(null);

  useEffect(() => {
    const svg = d3.select(ref.current);
    svg.selectAll("*").remove();

    svg.append("rect")
      .attr("x", 9).attr("y", 7)
      .attr("width", 1153).attr("height", 760)
      .attr("fill", "none").attr("stroke", "#c8c8c8").attr("stroke-width", 2);

    panels.forEach((p, i) => {
      const f = frames[i];
      const x = d3.scaleLinear().domain([2020, 2100]).range([0, plotW]);
      const y = d3.scaleLinear().domain([0, 1]).range([plotH, 0]);
      const line = d3.line<number[]>().x(d => x(d[0])).y(d => y(d[1]));
      const pts = (vals: number[], step: number) => vals.map((v, k) => [p.start + k * step, v]);

      const g = svg.append("g").attr("transform", `translate(${f.left},${f.top})`);

      g.append("g").selectAll("path").data(p.runs).join("path")
        .attr("d", v => line(pts(v, p.runStep)))
        .attr("fill", "none").attr("stroke", "#d4d4d4").attr("stroke-width", 0.9);

      g.append("g").selectAll("path").data(p.models).join("path")
        .attr("d", v => line(pts(v, p.modelStep)))
        .attr("fill", "none").attr("stroke", "#8e8e8e").attr("stroke-width", 1.5)
        .attr("stroke-linejoin", "round");

      g.append("path")
        .attr("d", line(pts(p.median, 1)))
        .attr("fill", "none").attr("stroke", "#141414").attr("stroke-width", 4.5)
        .attr("stroke-linejoin", "round");

      g.append("rect")
        .attr("width", plotW).attr("height", plotH)
        .attr("fill", "none").attr("stroke", "#111").attr("stroke-width", 1.2);

      const xa = g.append("g")
        .attr("transform", `translate(0,${plotH})`)
        .call(d3.axisBottom(x).tickValues(xTicks).tickFormat(d3.format("d")).tickSize(3).tickPadding(1.5).tickSizeOuter(0));
      xa.select(".domain").remove();
      xa.attr("font-family", sans).attr("font-size", 14);
      xa.selectAll("line").attr("stroke", "#111");
      xa.selectAll("text").attr("fill", "#1a1a1a").attr("transform", "scale(0.86,1)");

      const ya = g.append("g")
        .call(d3.axisLeft(y).tickValues(yTicks).tickFormat(d3.format(".1f")).tickSize(4).tickPadding(2).tickSizeOuter(0));
      ya.select(".domain").remove();
      ya.attr("font-family", sans).attr("font-size", 14);
      ya.selectAll("line").attr("stroke", "#111");
      ya.selectAll<SVGTextElement, number>("text")
        .attr("fill", "#1a1a1a").attr("x", -7)
        .attr("dy", d => (d === 0 ? "0.1em" : "0.32em"))
        .attr("transform", "scale(0.86,1)");

      svg.append("text")
        .attr("transform", `translate(${f.titleX},${f.top - 5.5}) scale(0.93,1)`)
        .attr("font-family", sans).attr("font-size", 16.5).attr("fill", "#1a1a1a")
        .text(p.title);

      svg.append("text")
        .attr("transform", `translate(${f.left + plotW / 2 + 2},${f.top + plotH + 30}) scale(0.88,1)`)
        .attr("text-anchor", "middle")
        .attr("font-family", sans).attr("font-size", 13).attr("fill", "#1a1a1a")
        .text("Year (CE)");

      svg.append("text")
        .attr("transform", `translate(${f.left - 35},${f.top + plotH / 2 - 2}) rotate(-90)`)
        .attr("text-anchor", "middle")
        .attr("font-family", sans).attr("font-size", 12.5).attr("fill", "#1a1a1a")
        .attr("textLength", 260).attr("lengthAdjust", "spacingAndGlyphs")
        .text("Probability of change in Temperature trend");
    });

    const cap = svg.append("g")
      .attr("font-family", "'Liberation Serif', serif").attr("font-size", 17).attr("fill", "#1a1a1a");
    captionLines.forEach((txt, k) => {
      const t = cap.append("text")
        .attr("x", 36).attr("y", 648 + k * 22)
        .attr("textLength", captionWidths[k]).attr("lengthAdjust", "spacingAndGlyphs");
      if (k === 0) {
        t.append("tspan").attr("font-weight", "bold").text("Figure 4.");
        t.append("tspan").text(" " + txt);
      } else {
        t.text(txt);
      }
    });
  }, []);

  return (
    <svg
      ref={ref}
      width={1168}
      height={724}
      style={{ position: "absolute", left: 0, top: 0, background: "#fff" }}
    />
  );
};

export default App;
